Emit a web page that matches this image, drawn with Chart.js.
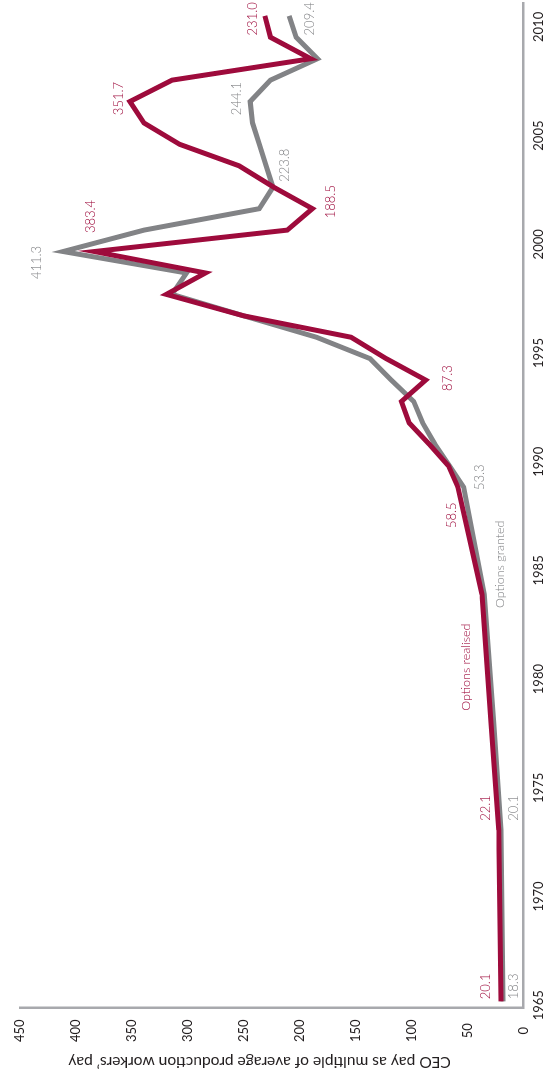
<!DOCTYPE html>
<html>
<head>
<meta charset="utf-8">
<title>CEO pay as multiple of workers' pay</title>
<script src="https://cdn.jsdelivr.net/npm/chart.js@4.4.1/dist/chart.umd.min.js"></script>
<style>
  html, body { margin: 0; padding: 0; background: #fff; }
  body { width: 560px; height: 1090px; overflow: hidden; position: relative; }
  /* the chart is laid out landscape and turned a quarter turn anticlockwise */
  #wrap {
    position: absolute; left: 0; top: 0;
    width: 1090px; height: 560px;
    transform-origin: 0 0;
    transform: translate(0, 1090px) rotate(-90deg);
  }
</style>
</head>
<body>
<div id="wrap"><canvas id="chart" width="1090" height="560"></canvas></div>
<script>
// Data
const YEARS = [1965, 1973, 1978, 1984, 1989, 1990, 1991, 1992, 1993, 1994, 1995, 1996, 1997,
               1998, 1999, 2000, 2001, 2002, 2003, 2004, 2005, 2006, 2007, 2008, 2009, 2010, 2011];
const REALISED = [20.1, 22.1, 29.0, 37.0, 58.5, 67.0, 84.0, 102.0, 109.0, 87.3, 122.6, 154.0, 250.0,
                  319.0, 284.0, 383.4, 211.0, 188.5, 223.0, 254.0, 307.0, 339.0, 351.7, 314.0, 190.0, 226.0, 231.0];
const GRANTED = [18.3, 20.1, 26.5, 35.0, 53.3, 66.0, 79.0, 90.0, 98.0, 118.0, 137.0, 185.0, 250.0,
                 314.0, 301.0, 411.3, 339.0, 236.0, 223.8, 230.0, 236.0, 242.0, 244.1, 226.0, 184.0, 203.0, 209.4];
const TICK_YEARS = [1965, 1970, 1975, 1980, 1985, 1990, 1995, 2000, 2005, 2010];
const Y_TITLE = 'CEO pay as multiple of average production workers’ pay';

// Colours and fonts
const RED = '#9e0b3c';
const GREY = '#828386';
const AXIS = '#a8a9ad';
const TEXT = '#231f20';
const FONT = 'Lato, "Open Sans", sans-serif';

// Which values get a number written next to them: [dataset, year, dx, dy]
const VALUE_LABELS = [
  [0, 1965, 15, -15], [1, 1965, 15, 11],
  [0, 1973, 22, -13], [1, 1973, 22, 13],
  [0, 1989, -28, -6], [1, 1989, 10, 16],
  [0, 1994, 2, 22],
  [0, 2000, 35, -4], [1, 2000, -11, -26],
  [0, 2002, 7, 18],
  [1, 2003, 22, 12],
  [0, 2007, 3, -11], [1, 2007, 3, -13],
  [0, 2011, -3, -12], [1, 2011, -3, 21]
];

// Series names written along the lines: [dataset, text, year, value]
const SERIES_NAMES = [
  [0, 'Options realised', 1980.6, 51],
  [1, 'Options granted', 1985.4, 21]
];

const toPoints = vals => vals.map((v, i) => ({ x: YEARS[i], y: v }));

// Draw value labels, series names and the value axis title
const lineLabels = {
  id: 'lineLabels',
  afterDatasetsDraw(chart) {
    const ctx = chart.ctx;
    const xs = chart.scales.x;
    const ys = chart.scales.y;
    const area = chart.chartArea;
    ctx.save();
    ctx.textAlign = 'center';
    ctx.textBaseline = 'middle';
    ctx.font = '300 13px ' + FONT;
    VALUE_LABELS.forEach(([ds, year, dx, dy]) => {
      const v = chart.data.datasets[ds].data[YEARS.indexOf(year)].y;
      ctx.fillStyle = ds === 0 ? RED : GREY;
      ctx.fillText(v.toFixed(1), xs.getPixelForValue(year) + dx, ys.getPixelForValue(v) + dy);
    });
    ctx.font = '300 12.5px ' + FONT;
    SERIES_NAMES.forEach(([ds, text, year, v]) => {
      ctx.fillStyle = ds === 0 ? RED : GREY;
      ctx.fillText(text, xs.getPixelForValue(year), ys.getPixelForValue(v));
    });
    // axis title sits a little above the middle of the axis
    ctx.translate(area.left - 55, (area.top + area.bottom) / 2 - 12);
    ctx.rotate(-Math.PI / 2);
    ctx.font = '15.6px ' + FONT;
    ctx.fillStyle = TEXT;
    ctx.fillText(Y_TITLE, 0, 0);
    ctx.restore();
  }
};

new Chart(document.getElementById('chart'), {
  type: 'line',
  data: {
    datasets: [
      { label: 'Options realised', data: toPoints(REALISED), borderColor: RED, borderWidth: 5 },
      { label: 'Options granted', data: toPoints(GRANTED), borderColor: GREY, borderWidth: 5 }
    ]
  },
  options: {
    responsive: false,
    animation: false,
    devicePixelRatio: 1,
    layout: { padding: { top: 11, right: 3, bottom: 5, left: 36 } },
    elements: {
      point: { radius: 0 },
      line: { tension: 0, borderJoinStyle: 'miter', borderCapStyle: 'butt' }
    },
    plugins: { legend: { display: false }, tooltip: { enabled: false } },
    scales: {
      // data axis, not drawn
      x: { type: 'linear', min: 1964.72, max: 2011.6, display: false },
      // year labels
      years: {
        type: 'linear', position: 'bottom', min: 1964.9, max: 2011.1,
        afterBuildTicks: s => { s.ticks = TICK_YEARS.map(v => ({ value: v })); },
        grid: { display: false, drawTicks: false },
        border: { display: true, color: AXIS, width: 2.5 },
        ticks: { padding: 8, color: TEXT, font: { family: FONT, size: 13 },
                 maxRotation: 0, autoSkip: false, callback: v => String(v) }
      },
      y: {
        min: 0, max: 450,
        grid: { display: false, drawTicks: false },
        border: { display: true, color: AXIS, width: 2.5 },
        ticks: { stepSize: 50, crossAlign: 'center', padding: 12, color: TEXT,
                 font: { family: FONT, size: 13 } }
      }
    }
  },
  plugins: [lineLabels]
});
</script>
</body>
</html>
